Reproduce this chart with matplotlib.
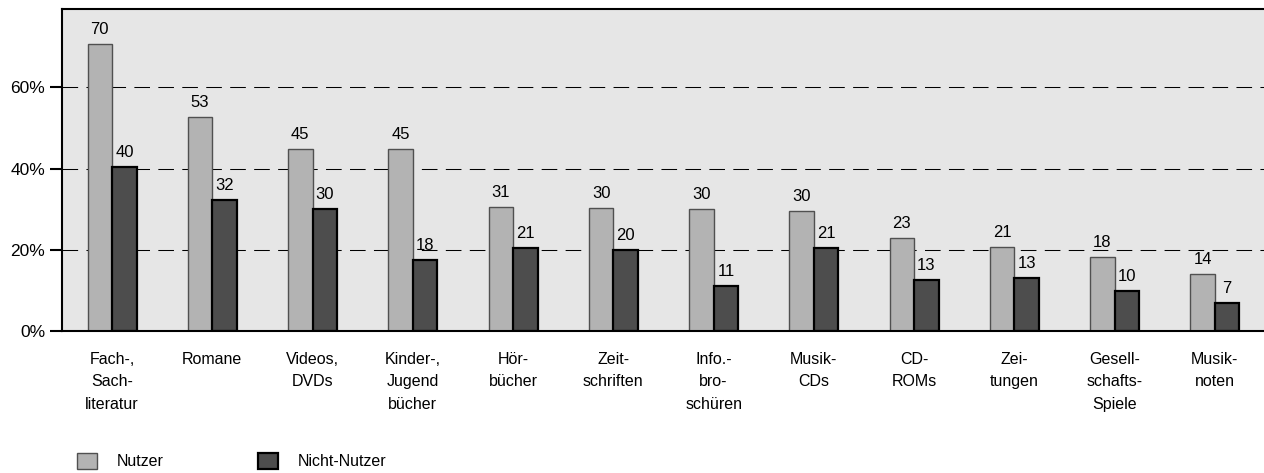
import matplotlib
matplotlib.use("Agg")
import matplotlib.pyplot as plt
import numpy as np

categories = ["Fach-,\nSach-\nliteratur", "Romane", "Videos,\nDVDs", "Kinder-,\nJugend\nbücher",
              "Hör-\nbücher", "Zeit-\nschriften", "Info.-\nbro-\nschüren", "Musik-\nCDs",
              "CD-\nROMs", "Zei-\ntungen", "Gesell-\nschafts-\nSpiele", "Musik-\nnoten"]
nutzer = [70.5, 52.7, 44.9, 44.7, 30.5, 30.2, 30.0, 29.6, 23.0, 20.8, 18.2, 14.0]
nicht_nutzer = [40.3, 32.2, 30.1, 17.6, 20.4, 20.0, 11.2, 20.5, 12.6, 13.2, 10.0, 6.9]
labels_nutzer = [70, 53, 45, 45, 31, 30, 30, 30, 23, 21, 18, 14]
labels_nicht = [40, 32, 30, 18, 21, 20, 11, 21, 13, 13, 10, 7]
yticks = [0, 20, 40, 60]
ytick_labels = ["0%", "20%", "40%", "60%"]
series_names = ["Nutzer", "Nicht-Nutzer"]

plt.rcParams['font.family'] = ['Liberation Sans', 'DejaVu Sans']
FS = 11.5

W, H = 1264, 473
fig = plt.figure(figsize=(W / 100, H / 100), dpi=100)
left, right, top, bottom = 62, 1265, 9, 331.3
ax = fig.add_axes([left / W, (H - bottom) / H, (right - left) / W, (bottom - top) / H])
ax.set_facecolor('#e6e6e6')

x = np.arange(len(categories))
bw = 0.245
b1 = ax.bar(x - bw / 2, nutzer, width=bw, color='#b3b3b3', edgecolor='#505050', linewidth=1.0, zorder=3,
            label=series_names[0])
b2 = ax.bar(x + bw / 2, nicht_nutzer, width=bw, color='#4d4d4d', edgecolor='black', linewidth=1.6, zorder=3,
            label=series_names[1])

for xi, v, lab in zip(x - bw / 2, nutzer, labels_nutzer):
    ax.annotate(str(lab), (xi, v), xytext=(0, 5), textcoords='offset points', ha='center', va='bottom',
                fontsize=12, zorder=5)
for xi, v, lab in zip(x + bw / 2, nicht_nutzer, labels_nicht):
    ax.annotate(str(lab), (xi, v), xytext=(0, 5), textcoords='offset points', ha='center', va='bottom',
                fontsize=12, zorder=5)

ax.set_xlim(-0.5, len(categories) - 0.5)
ax.set_ylim(0, 79.2)
ax.set_yticks(yticks)
ax.set_yticklabels(ytick_labels, fontsize=12.5)
ax.set_xticks(x)
ax.set_xticklabels(categories, fontsize=FS, linespacing=1.6)
ax.tick_params(axis='x', length=0, pad=15)
ax.tick_params(axis='y', direction='out', length=8.5, width=1.5, pad=3.5)

for yv in yticks[1:]:
    ax.axhline(yv, color='black', linewidth=0.75, linestyle=(0, (15, 8)), zorder=1)

for s in ['left', 'top', 'bottom']:
    ax.spines[s].set_linewidth(1.5)
    ax.spines[s].set_color('black')
ax.spines['right'].set_visible(False)
ax.spines['bottom'].set_zorder(4)

fig.legend(handles=[b1, b2], loc='center left', bbox_to_anchor=(77 / W, 1 - 461 / H), ncol=2,
           frameon=False, fontsize=FS, handlelength=1.25, handleheight=1.25, handletextpad=1.25,
           columnspacing=5.9, borderpad=0, borderaxespad=0)

fig.savefig('out.png', dpi=100)
